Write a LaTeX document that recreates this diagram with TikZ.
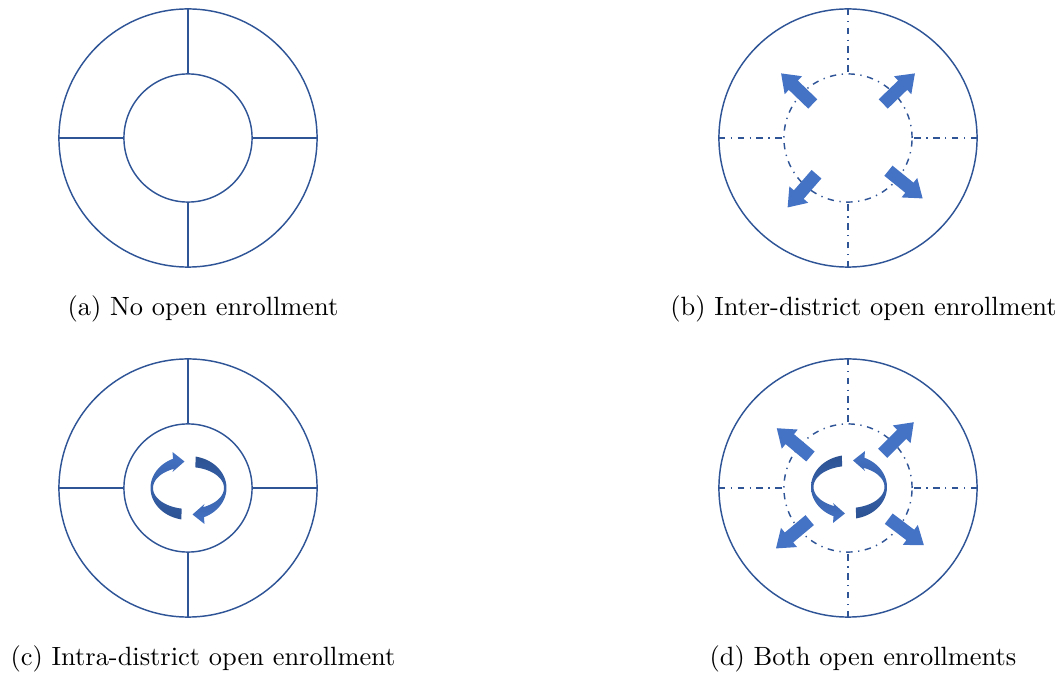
\documentclass[tikz,border=0pt]{standalone}
\definecolor{ringblue}{HTML}{2F5597}
\definecolor{arrowblue}{HTML}{4472C4}
\definecolor{ribbondark}{HTML}{2C5292}
\tikzset{
  ring/.style={circle, draw=ringblue, line width=0.55pt, inner sep=0pt, outer sep=0pt},
  outerring/.style={ring, minimum size=97.7pt},
  innerring/.style={ring, minimum size=48.5pt},
  spoke/.style={draw=ringblue, line width=0.55pt},
  dashdot/.style={dash pattern=on 2.4pt off 2.1pt on 0.5pt off 2.1pt},
  caption/.style={inner sep=0pt},
  % straight block arrow pointing along +x, starting at radius #1
  pics/blockarrow/.style={code={
    \fill[arrowblue] (#1,-6.5) -- ++(27,0) -- ++(0,-6) -- ++(17,12.5)
      -- ++(-17,12.5) -- ++(0,-6) -- ++(-27,0) -- cycle;
  }},
  % half of a circular ribbon arrow; #1,#2 mirror it, #3,#4 top/bottom shade
  pics/ribbon/.style n args={4}{code={
    \shade[top color=#3, bottom color=#4]
      plot[domain=259:114, samples=40] ({#1*38*cos(\x)}, {#2*32*sin(\x)})
      -- ({#1*(-16)}, {#2*36})
      -- ({#1*(-4)}, {#2*26.5})
      -- ({#1*(-16)}, {#2*16})
      -- plot[domain=114:259, samples=40] ({#1*35.5*cos(\x)}, {#2*21*sin(\x)})
      -- cycle;
  }}
}
\begin{document}
\begin{tikzpicture}[x=0.3785pt, y=0.3785pt]
\useasboundingbox (0,0) rectangle (1063,675);

% (a) districts without open enrollment
\node[outerring] (aO) at (188,537) {};
\node[innerring] (aI) at (188,537) {};
\foreach \s in {north,south,east,west} \draw[spoke] (aI.\s) -- (aO.\s);
\node[caption] (capA) at (203,366) {(a) No open enrollment};

% (b) inter-district
\node[outerring] (bO) at (848,537) {};
\node[innerring, dashdot] (bI) at (848,537) {};
\foreach \s in {north,south,east,west} \draw[spoke, dashdot] (bO.\s) -- (bI.\s);
\pic[rotate=136] at (bO.center) {blockarrow=49};
\pic[rotate=44]  at (bO.center) {blockarrow=49};
\pic[rotate=229] at (bO.center) {blockarrow=48};
\pic[rotate=321] at (bO.center) {blockarrow=52};
\node[caption] (capB) at (863.5,366) {(b) Inter-district open enrollment};

% (c) intra-district
\node[outerring] (cO) at (188,187) {};
\node[innerring] (cI) at (188,187) {};
\foreach \s in {north,south,east,west} \draw[spoke] (cI.\s) -- (cO.\s);
\pic at (188.5,187) {ribbon={1}{1}{arrowblue}{ribbondark}};
\pic at (188.5,187) {ribbon={-1}{-1}{ribbondark}{arrowblue}};
\node[caption] (capC) at (203,16) {(c) Intra-district open enrollment};

% (d) both
\node[outerring] (dO) at (848,187) {};
\node[innerring, dashdot] (dI) at (848,187) {};
\foreach \s in {north,south,east,west} \draw[spoke, dashdot] (dO.\s) -- (dI.\s);
\pic[rotate=140] at (dO.center) {blockarrow=49};
\pic[rotate=45]  at (dO.center) {blockarrow=49};
\pic[rotate=220] at (dO.center) {blockarrow=50};
\pic[rotate=323] at (dO.center) {blockarrow=51};
\pic at (849,188) {ribbon={1}{-1}{ribbondark}{arrowblue}};
\pic at (849,188) {ribbon={-1}{1}{arrowblue}{ribbondark}};
\node[caption] (capD) at (863,16) {(d) Both open enrollments};
\end{tikzpicture}
\end{document}
